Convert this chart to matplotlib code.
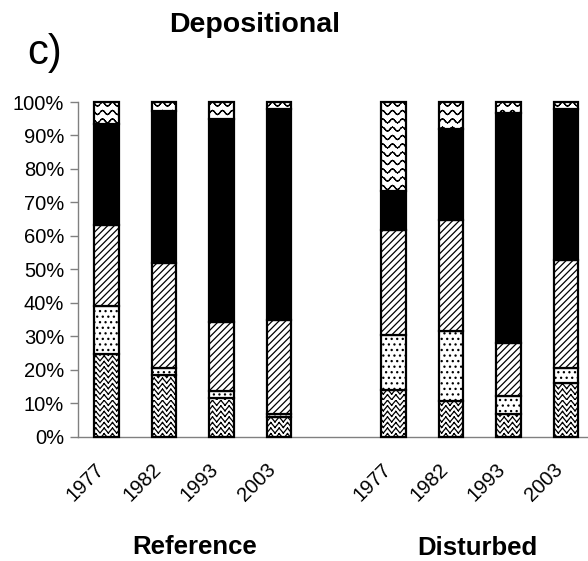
import warnings
warnings.filterwarnings("ignore")
import numpy as np
import matplotlib
matplotlib.use("Agg")
import matplotlib.pyplot as plt
import matplotlib.hatch as mhatch
import matplotlib.transforms as mtransforms
from matplotlib.path import Path

# ---------------- data ----------------
years = ["1977", "1982", "1993", "2003"]
groups = ["Reference", "Disturbed"]
# stacked components, bottom -> top (percent)
ref_crosshatch = [24.7, 18.4, 11.5, 5.8]
ref_dotted     = [14.2, 2.0, 2.2, 1.0]
ref_diagonal   = [24.4, 31.4, 20.6, 27.9]
ref_black      = [30.0, 45.5, 60.5, 63.1]
ref_wavy       = [6.7, 2.7, 5.2, 2.2]

dist_crosshatch = [13.9, 10.7, 6.7, 16.0]
dist_dotted     = [16.5, 20.7, 5.3, 4.4]
dist_diagonal   = [31.4, 33.2, 16.1, 32.4]
dist_black      = [11.5, 27.4, 68.7, 45.2]
dist_wavy       = [26.7, 8.0, 3.2, 2.0]

ytick_values = list(range(0, 101, 10))
ytick_labels = [f"{v}%" for v in ytick_values]


# ---------------- custom hatches (drawn as separate 2-point segments) ----------------
def _fill_segments(vertices, codes, lines):
    k = 0
    for xs, ys in lines:
        for j in range(len(xs) - 1):
            vertices[k] = (xs[j], ys[j])
            vertices[k + 1] = (xs[j + 1], ys[j + 1])
            codes[k] = Path.MOVETO
            codes[k + 1] = Path.LINETO
            k += 2


class WavyHatch(mhatch.HatchPatternBase):
    def __init__(self, hatch, density):
        self.num_lines = int(hatch.count('~') * density)
        self.npts = 81
        self.num_vertices = self.num_lines * (self.npts - 1) * 2

    def set_vertices_and_codes(self, vertices, codes):
        xs = np.linspace(0, 1, self.npts)
        lines = []
        for i in range(self.num_lines):
            y0 = (i + 0.5) / self.num_lines
            lines.append((xs, y0 + 0.02 * np.sin(2 * np.pi * 10 * xs)))
        _fill_segments(vertices, codes, lines)


class ZigzagHatch(mhatch.HatchPatternBase):
    def __init__(self, hatch, density):
        self.num_lines = int(hatch.count('z') * density)
        self.nzig = 12
        self.npts = self.nzig * 2 + 1
        self.num_vertices = self.num_lines * (self.npts - 1) * 2

    def set_vertices_and_codes(self, vertices, codes):
        if self.num_lines == 0:
            return
        xs = np.linspace(0, 1, self.npts)
        amp = 0.45 / self.num_lines
        lines = []
        for i in range(self.num_lines):
            y0 = (i + 0.5) / self.num_lines
            lines.append((xs, y0 + amp * np.where(np.arange(self.npts) % 2 == 0, -1, 1)))
        _fill_segments(vertices, codes, lines)


mhatch._hatch_types.append(WavyHatch)
mhatch._hatch_types.append(ZigzagHatch)

plt.rcParams['font.family'] = ['Liberation Sans', 'DejaVu Sans']
plt.rcParams['hatch.linewidth'] = 0.9

fig = plt.figure(figsize=(5.88, 5.61), dpi=100)
W, H = 588, 561
x0, x1 = 78, 588
y0, y1 = 436.5, 102
ax = fig.add_axes([x0 / W, (H - y0) / H, (x1 - x0) / W, (y0 - y1) / H])

n = len(years)
ref_pos = np.arange(n)
dist_pos = np.arange(n) + n + 1

layers = [
    ("crosshatch", ref_crosshatch, dist_crosshatch, "white", "zzz"),
    ("dotted", ref_dotted, dist_dotted, "white", "..."),
    ("diagonal", ref_diagonal, dist_diagonal, "white", "/////"),
    ("black", ref_black, dist_black, "black", None),
    ("wavy", ref_wavy, dist_wavy, "white", "~~"),
]

width = 0.43
for pos, idx in ((ref_pos, 1), (dist_pos, 2)):
    bottom = np.zeros(n)
    for layer in layers:
        vals = np.array(layer[idx])
        ax.bar(pos, vals, width, bottom=bottom, color=layer[3],
               edgecolor="black", linewidth=1.6, hatch=layer[4],
               clip_on=False, zorder=3)
        bottom += vals

ax.set_xlim(-0.5, -0.5 + (x1 - x0) / 57.4)
ax.set_ylim(0, 100)
ax.set_yticks(ytick_values)
ax.set_yticklabels(ytick_labels, fontsize=14.5)
ax.tick_params(axis='y', length=6, width=1, color='#808080', pad=4)

ax.set_xticks(np.concatenate([ref_pos, dist_pos]))
ax.set_xticklabels(years + years, fontsize=14.5, rotation=45,
                   ha='right', va='center', rotation_mode='anchor')
ax.tick_params(axis='x', length=0, pad=0)
offset = mtransforms.ScaledTranslation(-6 / 100, -30 / 100, fig.dpi_scale_trans)
for lab in ax.get_xticklabels():
    lab.set_transform(lab.get_transform() + offset)

for s in ("top", "right"):
    ax.spines[s].set_visible(False)
for s in ("left", "bottom"):
    ax.spines[s].set_color('#808080')
    ax.spines[s].set_linewidth(1)

fig.text(255 / W, 1 - 25 / H, "Depositional", fontsize=20.5, fontweight='bold',
         ha='center', va='center')
fig.text(45 / W, 1 - 53 / H, "c)", fontsize=30, ha='center', va='center')
fig.text(195 / W, 1 - 547 / H, groups[0], fontsize=18.5, fontweight='bold',
         ha='center', va='center')
fig.text(477 / W, 1 - 548 / H, groups[1], fontsize=18.5, fontweight='bold',
         ha='center', va='center')

fig.savefig("out.png", dpi=100)
